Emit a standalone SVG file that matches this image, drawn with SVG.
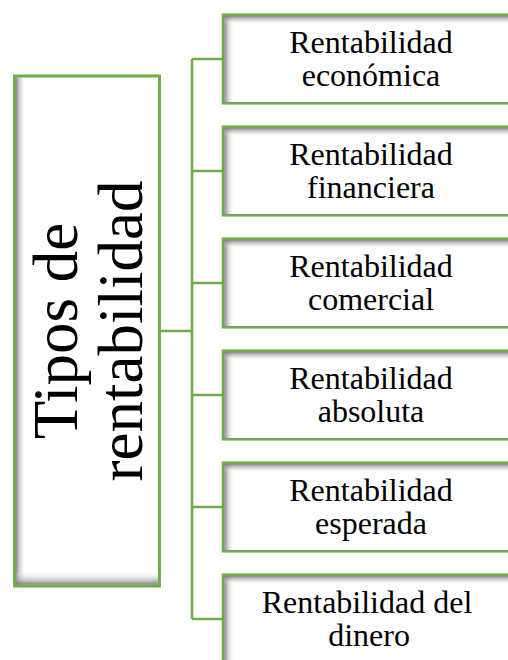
<svg xmlns="http://www.w3.org/2000/svg" width="508" height="660" viewBox="0 0 508 660">
<defs>
<linearGradient id="shL" x1="0" y1="0" x2="1" y2="0"><stop offset="0" stop-color="#6e6e6e" stop-opacity="0.85"/><stop offset="1" stop-color="#ffffff" stop-opacity="0"/></linearGradient>
<linearGradient id="shT" x1="0" y1="0" x2="0" y2="1"><stop offset="0" stop-color="#6e6e6e" stop-opacity="0.85"/><stop offset="1" stop-color="#ffffff" stop-opacity="0"/></linearGradient>
<linearGradient id="shB" x1="0" y1="1" x2="0" y2="0"><stop offset="0" stop-color="#6e6e6e" stop-opacity="0.85"/><stop offset="1" stop-color="#ffffff" stop-opacity="0"/></linearGradient>
</defs>
<style>
.box{fill:#fff;stroke:#70AD47;stroke-width:2.6}
.con{fill:none;stroke:#70AD47;stroke-width:2.6}
.t{font-family:"Liberation Serif","Times New Roman",serif;font-size:32px;fill:#000;text-anchor:middle}
.big{font-family:"Liberation Serif","Times New Roman",serif;font-size:63px;fill:#000;text-anchor:middle}
</style>
<g id="connectors">
<path class="con" d="M160 331H192M192 59V619M192 59H223M192 171H223M192 283H223M192 395H223M192 507H223M192 619H223"/>
</g>
<g id="root">
<rect class="box" x="14.5" y="76" width="145" height="510"/>
<rect x="15.8" y="77.3" width="10" height="507.4" fill="url(#shL)"/>
<rect x="15.8" y="571" width="142.4" height="13.7" fill="url(#shB)"/>
<rect class="box" x="14.5" y="76" width="145" height="510" fill="none" style="fill:none"/>
<text class="big" transform="translate(77,331) rotate(-90)">Tipos de</text>
<text class="big" transform="translate(142,331) rotate(-90)">rentabilidad</text>
</g>
<g id="n1">
<rect class="box" x="223" y="14.7" width="300" height="88.6"/>
<rect x="224.3" y="16" width="10" height="86" fill="url(#shL)"/>
<rect x="224.3" y="16" width="290" height="9" fill="url(#shT)"/>
<text class="t" x="371" y="53.3">Rentabilidad</text>
<text class="t" x="371" y="86">económica</text>
</g>
<g id="n2">
<rect class="box" x="223" y="126.7" width="300" height="88.6"/>
<rect x="224.3" y="128" width="10" height="86" fill="url(#shL)"/>
<rect x="224.3" y="128" width="290" height="9" fill="url(#shT)"/>
<text class="t" x="371" y="165.3">Rentabilidad</text>
<text class="t" x="371" y="198">financiera</text>
</g>
<g id="n3">
<rect class="box" x="223" y="238.7" width="300" height="88.6"/>
<rect x="224.3" y="240" width="10" height="86" fill="url(#shL)"/>
<rect x="224.3" y="240" width="290" height="9" fill="url(#shT)"/>
<text class="t" x="371" y="277.3">Rentabilidad</text>
<text class="t" x="371" y="310">comercial</text>
</g>
<g id="n4">
<rect class="box" x="223" y="350.7" width="300" height="88.6"/>
<rect x="224.3" y="352" width="10" height="86" fill="url(#shL)"/>
<rect x="224.3" y="352" width="290" height="9" fill="url(#shT)"/>
<text class="t" x="371" y="389.3">Rentabilidad</text>
<text class="t" x="371" y="422">absoluta</text>
</g>
<g id="n5">
<rect class="box" x="223" y="462.7" width="300" height="88.6"/>
<rect x="224.3" y="464" width="10" height="86" fill="url(#shL)"/>
<rect x="224.3" y="464" width="290" height="9" fill="url(#shT)"/>
<text class="t" x="371" y="501.3">Rentabilidad</text>
<text class="t" x="371" y="534">esperada</text>
</g>
<g id="n6">
<rect class="box" x="223" y="574.7" width="300" height="88.6"/>
<rect x="224.3" y="576" width="10" height="86" fill="url(#shL)"/>
<rect x="224.3" y="576" width="290" height="9" fill="url(#shT)"/>
<text class="t" x="367" y="613.3">Rentabilidad del</text>
<text class="t" x="369" y="646">dinero</text>
</g>
</svg>
